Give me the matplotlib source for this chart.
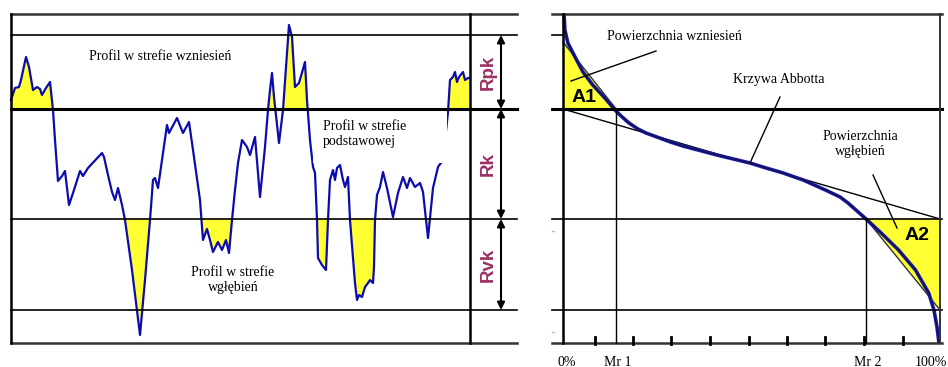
import numpy as np
import matplotlib
matplotlib.use("Agg")
import matplotlib.pyplot as plt
from matplotlib.patches import Polygon, Rectangle

# ---------------- data ----------------
# roughness profile (position along the sample, surface height in drawing units; y grows downward)
profile_x = [11, 15, 19, 21, 26, 29, 33, 37, 40, 42, 46, 50, 53, 55, 58, 62, 65, 69, 74, 80,
             83, 88, 102, 104, 108, 112, 115, 118, 122, 125, 132, 140, 145, 150, 153, 155, 158, 167, 169, 177,
             183, 189, 193, 200, 203, 207, 210, 213, 218, 222, 226, 229, 232, 235, 238, 242, 247, 250, 255, 260,
             265, 268, 270, 272, 274, 279, 283, 287, 289, 292, 295, 299, 305, 307, 310, 313, 315, 317, 318, 322,
             326, 328, 330, 333, 335, 337, 340, 343, 345, 348, 350, 355, 357, 359, 362, 365, 368, 370, 373, 374,
             375, 377, 380, 383, 387, 393, 398, 403, 407, 410, 415, 420, 423, 428, 433, 438, 443, 448, 450, 453,
             455, 457, 459, 463, 465, 468, 470]
profile_z = [100, 88, 87, 80, 57, 67, 90, 87, 89, 95, 88, 82, 110, 140, 181, 176, 171, 205, 190, 171,
             176, 168, 153, 157, 175, 192, 200, 188, 205, 220, 270, 335, 280, 220, 180, 178, 188, 125, 133, 118,
             133, 122, 150, 200, 240, 229, 240, 252, 242, 250, 240, 253, 220, 190, 163, 140, 147, 155, 137, 197,
             147, 110, 90, 73, 97, 143, 110, 53, 25, 37, 87, 83, 62, 100, 140, 167, 173, 220, 258, 265,
             270, 220, 180, 170, 180, 168, 165, 180, 187, 177, 220, 283, 300, 295, 297, 287, 283, 280, 283, 267,
             220, 195, 187, 172, 188, 217, 193, 177, 188, 178, 187, 183, 192, 238, 188, 167, 160, 112, 80, 77,
             72, 82, 77, 72, 80, 78, 78]

# characteristic levels (top border, Rpk top, core top, core bottom, Rvk bottom, bottom border)
levels = [14, 35, 109, 219, 310, 343]
zone_labels = ["Rpk", "Rk", "Rvk"]

# Abbott-Firestone curve: material ratio [%] vs height
abbott_mr = [0.3, 0.5, 1.3, 3.2, 5.3, 7.9, 11.1, 13.8, 15.4, 17.5, 19.9, 22.0, 24.9, 28.5, 31.8, 40.8,
             49.6, 53.0, 58.4, 63.7, 69.6, 73.5, 75.6, 80.1, 84.4, 89.0, 93.5, 97.0, 98.4, 99.2, 99.7]
abbott_z = [15, 30, 43, 57, 72, 85, 98, 110, 116, 123, 129, 133, 137, 142, 146, 155,
            163, 167, 173, 180, 190, 197, 203, 218, 233, 250, 270, 293, 310, 327, 342]
mr1, mr2 = 14.1, 80.4
tick_mr = [8.5, 18.6, 28.6, 39.0, 49.3, 59.4, 69.5, 79.8, 90.2]
a1_top = 42      # height where A1 triangle starts at Mr=0
a2_bottom = 310  # height where A2 triangle ends at Mr=100

# ---------------- drawing ----------------
fig = plt.figure(figsize=(9.48, 3.67), dpi=100)
ax = fig.add_axes([0, 0, 1, 1])
ax.set_xlim(0, 948)
ax.set_ylim(367, 0)
ax.axis("off")

YEL = "#ffff33"
BLUE = "#0c0cae"
MAROON = "#9b2f63"
serif = ["Liberation Serif", "DejaVu Serif"]
sans = ["Liberation Sans", "DejaVu Sans"]

L0, L1, LV = 11, 517, 470   # left panel x-extent
R0, RA, R1 = 552, 563, 940  # right panel

def mr2x(m):
    return RA + np.asarray(m) * (R1 - RA) / 100.0

px = np.array(profile_x, float)
pz = np.array(profile_z, float)
# dense sampling of the polyline only for exact fill boundaries
xs = np.linspace(px[0], px[-1], 3000)
zs = np.interp(xs, px, pz)
ax.fill_between(xs, zs, levels[2], where=zs < levels[2], interpolate=True, color=YEL, lw=0, zorder=1)
ax.fill_between(xs, zs, levels[3], where=zs > levels[3], interpolate=True, color=YEL, lw=0, zorder=1)
ax.plot(px, pz, color=BLUE, lw=1.6, zorder=3)

# white box behind middle label
ax.add_patch(Rectangle((313, 112), 134, 51, facecolor="white", edgecolor="none", zorder=4))

# left panel grid
for i, lv in enumerate(levels):
    lw = 2.2 if i == 2 else (1.8 if i in (0, 5) else 1.2)
    col = "#333333" if i in (0, 5) else "black"
    ax.plot([L0, L1], [lv, lv], color=col, lw=lw, zorder=5)
ax.plot([L0, L0], [levels[0], levels[5]], color="black", lw=1.8, zorder=5)
ax.plot([LV, LV], [levels[0], levels[5]], color="black", lw=1.8, zorder=5)

# arrows + zone labels
for j, lab in enumerate(zone_labels):
    a, b = levels[1 + j], levels[2 + j]
    ax.annotate("", xy=(501, a), xytext=(501, b),
                arrowprops=dict(arrowstyle="<|-|>", color="black", lw=1.5,
                                mutation_scale=11, shrinkA=0, shrinkB=0), zorder=6)
    ax.text(488, (a + b) / 2, lab, rotation=90, ha="center", va="center",
            fontsize=13.5, fontweight="bold", color=MAROON, family=sans, zorder=6)

ax.text(160, 57, "Profil w strefie wzniesień", ha="center", va="center",
        fontsize=10, family=serif, zorder=6)
ax.text(323, 134, "Profil w strefie\npodstawowej", ha="left", va="center",
        fontsize=10, family=serif, linespacing=1.3, zorder=6)
ax.text(233, 280, "Profil w strefie\nwgłębień", ha="center", va="center",
        fontsize=10, family=serif, linespacing=1.3, zorder=6)

# ---------------- right panel ----------------
ax.add_patch(Polygon([(RA, a1_top), (RA, levels[2]), (mr2x(mr1), levels[2])],
                     closed=True, facecolor=YEL, edgecolor="none", zorder=1))
ax.add_patch(Polygon([(mr2x(mr2), levels[3]), (R1, levels[3]), (R1, a2_bottom)],
                     closed=True, facecolor=YEL, edgecolor="none", zorder=1))
ax.plot([RA, mr2x(mr1)], [a1_top, levels[2]], color="#333333", lw=1.0, zorder=2)
ax.plot([mr2x(mr2), R1], [levels[3], a2_bottom], color="#333333", lw=1.0, zorder=2)
# equivalent straight line of the core
ax.plot([RA, R1], [levels[2], levels[3]], color="black", lw=1.0, zorder=2)

ax.plot(mr2x(abbott_mr), abbott_z, color="#1c1ca8", lw=2.6, zorder=3)
ax.plot(mr2x(abbott_mr), abbott_z, color="#101050", lw=1.0, zorder=3)

for i, lv in enumerate(levels):
    if i == 1:
        ax.plot([R0, RA], [lv, lv], color="black", lw=1.2, zorder=5)
        continue
    lw = 2.2 if i == 2 else (1.8 if i in (0, 5) else 1.2)
    col = "#333333" if i in (0, 5) else "black"
    ax.plot([R0, R1 + 2], [lv, lv], color=col, lw=lw, zorder=5)
ax.plot([RA, RA], [levels[0], levels[5]], color="black", lw=1.8, zorder=5)
ax.plot([R1, R1], [levels[0], levels[5]], color="#333333", lw=1.4, zorder=5)
ax.plot([mr2x(mr1)] * 2, [levels[2], levels[5]], color="black", lw=1.0, zorder=5)
ax.plot([mr2x(mr2)] * 2, [levels[3], levels[5]], color="black", lw=1.0, zorder=5)
for t in tick_mr:
    ax.plot([mr2x(t)] * 2, [levels[5] - 6, levels[5] + 1], color="black", lw=2.0, zorder=5)
# faint scan marks at the left edge
for yy in (231, 332):
    ax.plot([R0, R0 + 2], [yy, yy], color="#bbbbbb", lw=1.0)

ax.text(567, 362, "0%", ha="center", va="center", fontsize=10, family=serif)
ax.text(618, 362, "Mr 1", ha="center", va="center", fontsize=10, family=serif)
ax.text(868, 362, "Mr 2", ha="center", va="center", fontsize=10, family=serif)
ax.text(931, 362, "100%", ha="center", va="center", fontsize=10, family=serif)

ax.text(584, 97, "A1", ha="center", va="center", fontsize=14, fontweight="bold", family=sans, zorder=6)
ax.text(917, 235, "A2", ha="center", va="center", fontsize=14, fontweight="bold", family=sans, zorder=6)

ax.text(674, 36, "Powierzchnia wzniesień", ha="center", va="center", fontsize=10, family=serif)
ax.plot([656, 571], [51, 81], color="black", lw=1.0, zorder=6)
ax.text(779, 79, "Krzywa Abbotta", ha="center", va="center", fontsize=10, family=serif)
ax.plot([780, 750], [97, 163], color="black", lw=1.0, zorder=6)
ax.text(860, 144, "Powierzchnia\nwgłębień", ha="center", va="center", fontsize=10,
        family=serif, linespacing=1.3)
ax.plot([873, 897], [175, 228], color="black", lw=1.0, zorder=6)

fig.savefig("out.png", dpi=100)
